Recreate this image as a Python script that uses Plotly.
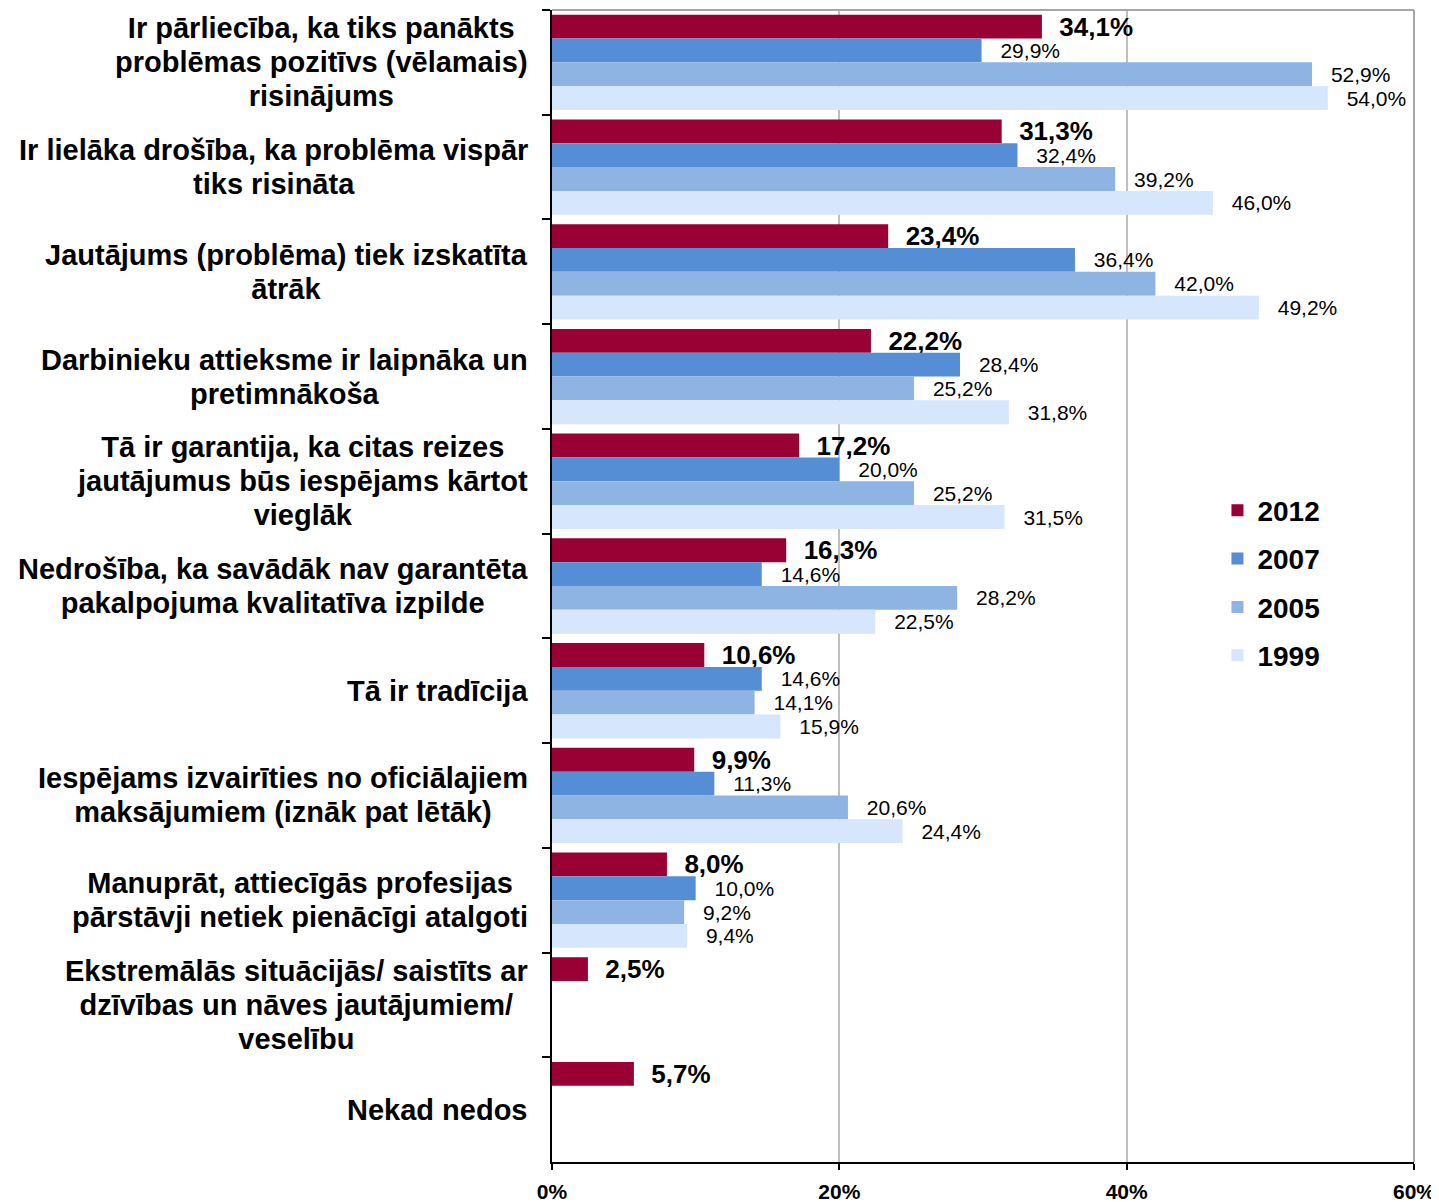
import plotly.graph_objects as go

categories = [
    "Ir pārliecība, ka tiks panākts<br>problēmas pozitīvs (vēlamais)<br>risinājums",
    "Ir lielāka drošība, ka problēma vispār<br>tiks risināta",
    "Jautājums (problēma) tiek izskatīta<br>ātrāk",
    "Darbinieku attieksme ir laipnāka un<br>pretimnākoša",
    "Tā ir garantija, ka citas reizes<br>jautājumus būs iespējams kārtot<br>vieglāk",
    "Nedrošība, ka savādāk nav garantēta<br>pakalpojuma kvalitatīva izpilde",
    "Tā ir tradīcija",
    "Iespējams izvairīties no oficiālajiem<br>maksājumiem (iznāk pat lētāk)",
    "Manuprāt, attiecīgās profesijas<br>pārstāvji netiek pienācīgi atalgoti",
    "Ekstremālās situācijās/ saistīts ar<br>dzīvības un nāves jautājumiem/<br>veselību",
    "Nekad nedos",
]

series_names = ["2012", "2007", "2005", "1999"]
v2012 = [34.1, 31.3, 23.4, 22.2, 17.2, 16.3, 10.6, 9.9, 8.0, 2.5, 5.7]
v2007 = [29.9, 32.4, 36.4, 28.4, 20.0, 14.6, 14.6, 11.3, 10.0, None, None]
v2005 = [52.9, 39.2, 42.0, 25.2, 25.2, 28.2, 14.1, 20.6, 9.2, None, None]
v1999 = [54.0, 46.0, 49.2, 31.8, 31.5, 22.5, 15.9, 24.4, 9.4, None, None]
series_values = [v2012, v2007, v2005, v1999]
colors = ["#990033", "#558ED5", "#8EB4E3", "#D6E6FC"]

FONT = "Liberation Sans, Arial, sans-serif"


def fmt(v, bold):
    if v is None:
        return ""
    pad = "\u00a0\u00a0" if bold else "\u00a0\u00a0\u2009"
    return pad + f"{v:.1f}".replace(".", ",") + "%"


def label_html(c):
    return "<br>".join(f"<span style='font-size:29px'>{ln}</span>" for ln in c.split("<br>"))


fig = go.Figure()
for i, (name, vals, col) in enumerate(zip(series_names, series_values, colors)):
    bold = i == 0
    fig.add_trace(go.Bar(
        y=categories, x=vals, name=name, orientation="h",
        marker=dict(color=col, line=dict(width=0)),
        text=[fmt(v, bold) for v in vals], textposition="outside",
        textfont=dict(family=FONT, size=26 if bold else 21, color="black",
                      weight="bold" if bold else "normal"),
        constraintext="none", cliponaxis=False,
        legendgroup=name,
    ))

for c in categories:
    fig.add_annotation(
        x=0, xref="paper", y=c, yref="y", xanchor="right", yanchor="middle",
        xshift=-22, align="center", showarrow=False, text=label_html(c),
        font=dict(family=FONT, size=26, color="black", weight="bold"),
    )

fig.add_shape(type="line", xref="paper", yref="paper", x0=0, x1=1, y0=1, y1=1,
              line=dict(color="#A6A6A6", width=2))
fig.add_shape(type="line", xref="paper", yref="paper", x0=1, x1=1, y0=0, y1=1,
              line=dict(color="#A6A6A6", width=2))

fig.update_layout(
    width=1431, height=1194,
    margin=dict(l=544, r=25, t=2, b=40, autoexpand=False),
    paper_bgcolor="white", plot_bgcolor="white",
    barmode="group", bargap=0.09, bargroupgap=0,
    font=dict(family=FONT, color="black"),
    legend=dict(x=0.772, y=0.5873, xanchor="left", yanchor="top",
                font=dict(family=FONT, size=28, color="black", weight="bold"),
                tracegroupgap=9, traceorder="grouped", bgcolor="rgba(0,0,0,0)"),
    showlegend=True,
)
fig.update_xaxes(
    range=[0, 60], dtick=20, ticksuffix="%", automargin=False,
    tickfont=dict(family=FONT, size=21, color="black", weight="bold"),
    showgrid=True, gridcolor="#BFBFBF", gridwidth=1.5,
    showline=True, linecolor="black", linewidth=2,
    ticks="outside", ticklen=6, tickcolor="black", tickwidth=1.5,
    zeroline=False, ticklabelstandoff=4,
)
fig.update_yaxes(
    autorange="reversed", showticklabels=False, automargin=False,
    showline=True, linecolor="black", linewidth=2,
    ticks="outside", ticklen=8, tickcolor="black", tickwidth=1.5,
    tickson="boundaries", showgrid=False,
)

fig.write_html("out.html")
